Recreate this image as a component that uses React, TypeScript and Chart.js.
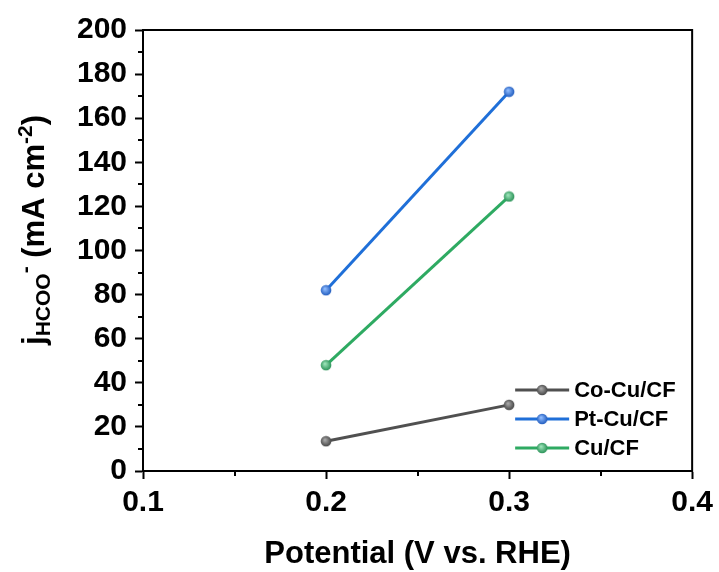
import React, { useEffect, useRef } from "react";
import { Chart, registerables } from "chart.js";

Chart.register(...registerables);

// ---------- data ----------
const potentials = [0.2, 0.3];
const seriesNames = ["Co-Cu/CF", "Pt-Cu/CF", "Cu/CF"];
const coCuCF = [13.5, 30];
const ptCuCF = [82, 172];
const cuCF = [48, 124.5];
const seriesValues = [coCuCF, ptCuCF, cuCF];
const xTickValues = [0.1, 0.2, 0.3, 0.4];
const xMinorValues = [0.15, 0.25, 0.35];
const yTickValues = [0, 20, 40, 60, 80, 100, 120, 140, 160, 180, 200];
const yMinorValues = [10, 30, 50, 70, 90, 110, 130, 150, 170, 190];
const xTitle = "Potential (V vs. RHE)";

// ---------- styles ----------
const FONT = "'Liberation Sans', Arial, sans-serif";
const lineColors = ["#505050", "#1F6FD8", "#2EAA62"];
const sphereColors = [
  ["#a8a8a8", "#3c3c3c"],
  ["#8fbcff", "#1552b8"],
  ["#9be3b8", "#1f8a4e"],
];

function makeSphere(light: string, dark: string): HTMLCanvasElement {
  const c = document.createElement("canvas");
  const s = 12;
  c.width = s;
  c.height = s;
  const g = c.getContext("2d")!;
  const grad = g.createRadialGradient(s / 2 - 1.2, s / 2 - 1.5, 0.5, s / 2, s / 2, s / 2);
  grad.addColorStop(0, light);
  grad.addColorStop(1, dark);
  g.fillStyle = grad;
  g.beginPath();
  g.arc(s / 2, s / 2, 5.3, 0, Math.PI * 2);
  g.fill();
  return c;
}

export default function App() {
  const ref = useRef<HTMLCanvasElement>(null);

  useEffect(() => {
    if (!ref.current) return;
    const spheres = sphereColors.map(([l, d]) => makeSphere(l, d));

    const decorPlugin = {
      id: "decor",
      afterDraw(chart: any) {
        const { ctx, chartArea } = chart;
        const xs = chart.scales.x;
        const ys = chart.scales.y;
        ctx.save();
        // frame top + right
        ctx.strokeStyle = "#000";
        ctx.lineWidth = 2;
        ctx.beginPath();
        ctx.moveTo(chartArea.left - 1, chartArea.top);
        ctx.lineTo(chartArea.right, chartArea.top);
        ctx.lineTo(chartArea.right, chartArea.bottom + 1);
        ctx.stroke();
        // minor ticks
        ctx.beginPath();
        yMinorValues.forEach((v) => {
          const y = Math.round(ys.getPixelForValue(v));
          ctx.moveTo(chartArea.left - 5, y);
          ctx.lineTo(chartArea.left, y);
        });
        xMinorValues.forEach((v) => {
          const x = Math.round(xs.getPixelForValue(v));
          ctx.moveTo(x, chartArea.bottom);
          ctx.lineTo(x, chartArea.bottom + 5);
        });
        ctx.stroke();

        // x title
        ctx.fillStyle = "#000";
        ctx.font = `bold 31px ${FONT}`;
        ctx.textAlign = "center";
        ctx.textBaseline = "alphabetic";
        ctx.fillText(xTitle, (chartArea.left + chartArea.right) / 2, 563);

        // y title with sub/superscripts
        const parts: [string, number, number][] = [
          ["j", 31, 0],
          ["HCOO", 21, 6],
          ["-", 21, -12],
          [" (mA cm", 31, 0],
          ["-2", 21, -12],
          [")", 31, 0],
        ];
        let total = 0;
        const widths = parts.map(([t, s]) => {
          ctx.font = `bold ${s}px ${FONT}`;
          const w = ctx.measureText(t).width;
          total += w;
          return w;
        });
        ctx.translate(44, 230);
        ctx.rotate(-Math.PI / 2);
        ctx.textAlign = "left";
        let cx = -total / 2;
        parts.forEach(([t, s, dy], i) => {
          ctx.font = `${i === 0 || t.startsWith(" ") || t === ")" ? "bold" : "bold"} ${s}px ${FONT}`;
          ctx.fillText(t, cx, dy);
          cx += widths[i];
        });
        ctx.restore();

        // legend
        ctx.save();
        const lx0 = chartArea.right - 177;
        const lx1 = chartArea.right - 123;
        const tx = chartArea.right - 118;
        const rowY = [chartArea.bottom - 81, chartArea.bottom - 52, chartArea.bottom - 23];
        chart.data.datasets.forEach((ds: any, i: number) => {
          const y = rowY[i];
          ctx.strokeStyle = ds.borderColor;
          ctx.lineWidth = 3;
          ctx.beginPath();
          ctx.moveTo(lx0, y);
          ctx.lineTo(lx1, y);
          ctx.stroke();
          const sp = spheres[i];
          ctx.drawImage(sp, (lx0 + lx1) / 2 - sp.width / 2, y - sp.height / 2);
          ctx.fillStyle = "#000";
          ctx.font = `bold 22px ${FONT}`;
          ctx.textAlign = "left";
          ctx.textBaseline = "middle";
          ctx.fillText(ds.label, tx, y + 1);
        });
        ctx.restore();
      },
    };

    const chart = new Chart(ref.current, {
      type: "line",
      data: {
        datasets: seriesNames.map((name, i) => ({
          label: name,
          data: potentials.map((x, j) => ({ x, y: seriesValues[i][j] })),
          borderColor: lineColors[i],
          backgroundColor: lineColors[i],
          borderWidth: 3,
          pointStyle: spheres[i] as any,
          pointRadius: 5,
          tension: 0,
        })),
      },
      options: {
        animation: false,
        responsive: false,
        maintainAspectRatio: false,
        layout: { padding: { left: 0, top: 30, right: 24, bottom: 0 } },
        plugins: { legend: { display: false }, tooltip: { enabled: false } },
        scales: {
          x: {
            type: "linear",
            min: 0.1,
            max: 0.4,
            afterBuildTicks: (s: any) => {
              s.ticks = xTickValues.map((v) => ({ value: v }));
            },
            afterFit: (s: any) => {
              s.height = 101;
            },
            ticks: {
              color: "#000",
              font: { family: FONT, size: 30, weight: "bold" },
              padding: 6,
              maxRotation: 0,
              autoSkip: false,
              callback: (v: any) => Number(v).toFixed(1),
            },
            grid: {
              drawOnChartArea: false,
              drawTicks: true,
              tickLength: 8,
              tickWidth: 2,
              tickColor: "#000",
            },
            border: { color: "#000", width: 2 },
          },
          y: {
            type: "linear",
            min: 0,
            max: 200,
            afterBuildTicks: (s: any) => {
              s.ticks = yTickValues.map((v) => ({ value: v }));
            },
            afterFit: (s: any) => {
              s.width = 143;
            },
            ticks: {
              color: "#000",
              font: { family: FONT, size: 30, weight: "bold" },
              padding: 8,
              autoSkip: false,
              callback: (v: any) => String(v),
            },
            grid: {
              drawOnChartArea: false,
              drawTicks: true,
              tickLength: 8,
              tickWidth: 2,
              tickColor: "#000",
            },
            border: { color: "#000", width: 2 },
          },
        },
      },
      plugins: [decorPlugin],
    } as any);
    return () => chart.destroy();
  }, []);

  return (
    <div style={{ position: "absolute", left: 0, top: 0, width: 719, height: 572, background: "#fff" }}>
      <canvas ref={ref} width={719} height={572} style={{ display: "block", width: 719, height: 572 }} />
    </div>
  );
}
